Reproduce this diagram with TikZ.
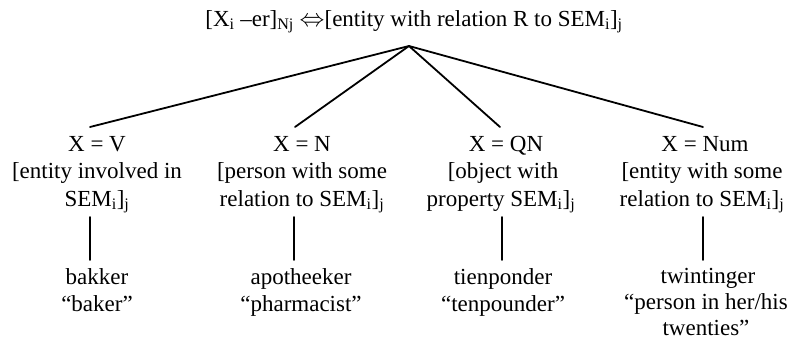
\documentclass[tikz,border=0pt]{standalone}
\usepackage{fontspec}
\setmainfont{Liberation Serif}
\begin{document}
\begin{tikzpicture}[x=1pt,y=1pt,
  txt/.style={anchor=base,inner sep=0pt,font=\fontsize{23}{27.5}\selectfont},
  branch/.style={line width=1.8pt,line cap=round}]
\useasboundingbox (0,0) rectangle (798,-340);
\node[txt] (top) at (414,-26) {[X\textsubscript{i} –er]\textsubscript{Nj} $\Leftrightarrow$[entity with relation R to SEM\textsubscript{i}]\textsubscript{j}};
\coordinate (apex) at (409,-46);
% column 1
\node[txt] (c1a) at (97,-151) {X = V};
\node[txt] (c1b) at (97,-178.5) {[entity involved in};
\node[txt] (c1c) at (97,-206) {SEM\textsubscript{i}]\textsubscript{j}};
\node[txt] (w1a) at (97,-284) {bakker};
\node[txt] (w1b) at (97,-311) {“baker”};
% column 2
\node[txt] (c2a) at (302,-151) {X = N};
\node[txt] (c2b) at (302,-178.5) {[person with some};
\node[txt] (c2c) at (302,-206) {relation to SEM\textsubscript{i}]\textsubscript{j}};
\node[txt] (w2a) at (301,-284) {apotheeker};
\node[txt] (w2b) at (301,-311) {“pharmacist”};
% column 3
\node[txt] (c3a) at (506,-151) {X = QN};
\node[txt] (c3b) at (503,-178.5) {[object with};
\node[txt] (c3c) at (501,-206) {property SEM\textsubscript{i}]\textsubscript{j}};
\node[txt] (w3a) at (503,-284) {tienponder};
\node[txt] (w3b) at (503,-311) {“tenpounder”};
% column 4
\node[txt] (c4a) at (705,-151) {X = Num};
\node[txt] (c4b) at (702,-178.5) {[entity with some};
\node[txt] (c4c) at (702,-206) {relation to SEM\textsubscript{i}]\textsubscript{j}};
\node[txt] (w4a) at (708,-283) {twintinger};
\node[txt] (w4b) at (706,-309.5) {“person in her/his};
\node[txt] (w4c) at (706,-335.5) {twenties”};
% branches
\draw[branch] (apex) -- ([xshift=-7pt,yshift=24pt]c1a.base);
\draw[branch] (apex) -- ([xshift=-7pt,yshift=24pt]c2a.base);
\draw[branch] (apex) -- ([xshift=-6pt,yshift=24pt]c3a.base);
\draw[branch] (apex) -- ([xshift=-2pt,yshift=24pt]c4a.base);
% vertical links
\draw[branch] ([xshift=-7pt,yshift=-11pt]c1c.base) -- ([xshift=-7pt,yshift=24pt]w1a.base);
\draw[branch] ([xshift=-8pt,yshift=-11pt]c2c.base) -- ([xshift=-7pt,yshift=24pt]w2a.base);
\draw[branch] ([xshift=1pt,yshift=-11pt]c3c.base) -- ([xshift=-1pt,yshift=24pt]w3a.base);
\draw[branch] ([xshift=1pt,yshift=-11pt]c4c.base) -- ([xshift=-5pt,yshift=23pt]w4a.base);
\end{tikzpicture}
\end{document}
